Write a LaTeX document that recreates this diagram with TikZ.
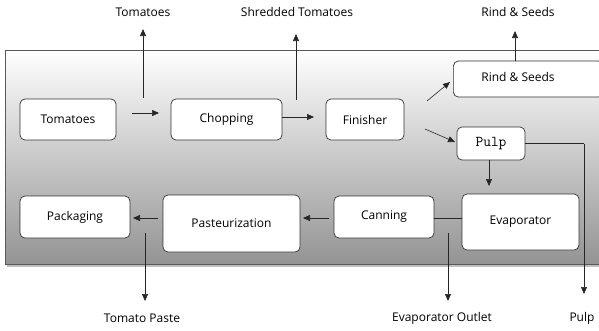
\documentclass[tikz,border=0pt]{standalone}
\usepackage{fontspec}
\setmainfont{Open Sans}
\usetikzlibrary{arrows.meta}
\begin{document}
\begin{tikzpicture}[x=1pt,y=-1pt,
  procbox/.style={draw=black!80, line width=0.7pt, rounded corners=5pt, fill=white, inner sep=0pt, font=\fontsize{12}{14}\selectfont},
  lbl/.style={font=\fontsize{12}{14}\selectfont, inner sep=0pt},
  arr/.style={-{Triangle[length=7pt,width=6pt]}, line width=0.6pt, draw=black!85},
  ln/.style={line width=0.6pt, draw=black!85}]
\useasboundingbox (0,0) rectangle (599,330);
% shadow and panel
\fill[black!25] (7,52) rectangle (601,267);
\shade[top color=white, bottom color=black!42, draw=black!65, line width=0.8pt] (5,50) rectangle (601,264);
% boxes
\node[procbox, minimum width=96pt, minimum height=41pt] (tom) at (68,119.5) {Tomatoes};
\node[procbox, minimum width=111pt, minimum height=41pt] (chop) at (226.5,119.5) {Chopping};
\node[procbox, minimum width=78pt, minimum height=41pt] (fin) at (365,119.5) {Finisher};
\node[procbox, minimum width=150pt, minimum height=36pt, anchor=west] (rind) at (453,79) {};
\node[lbl] at (518,77) {Rind \& Seeds};
\node[procbox, minimum width=68pt, minimum height=33pt, font=\ttfamily\fontsize{15}{16}\selectfont] (pulp) at (491,143.5) {Pulp};
\node[procbox, minimum width=117pt, minimum height=56pt] (evap) at (520.5,222) {Evaporator};
\node[procbox, minimum width=100pt, minimum height=42pt] (can) at (384,217) {Canning};
\node[procbox, minimum width=137pt, minimum height=57pt] (past) at (231.5,223.5) {Pasteurization};
\node[procbox, minimum width=110pt, minimum height=42pt] (pack) at (75,217) {Packaging};
% labels outside
\node[lbl] (ltom) at (143,12) {Tomatoes};
\node[lbl] (lshred) at (297,12) {Shredded Tomatoes};
\node[lbl] (lrind) at (518,12) {Rind \& Seeds};
\node[lbl] (lpaste) at (142,318) {Tomato Paste};
\node[lbl] (lout) at (442,318) {Evaporator Outlet};
\node[lbl] (lpulp) at (582,318) {Pulp};
% coordinates
\coordinate (a1) at (132,113);
\coordinate (a2) at (159,113);
\coordinate (u1) at (143,98);
\coordinate (u1t) at (143,29);
\coordinate (u2) at (296,100);
\coordinate (u2t) at (296,34);
\coordinate (d1) at (427,101);
\coordinate (d1t) at (450,82);
\coordinate (d2) at (425,129);
\coordinate (d2t) at (455,142);
\coordinate (r1t) at (515,31);
\coordinate (pc) at (584,143.5);
\coordinate (pb) at (584,294);
\coordinate (eo) at (448,233);
\coordinate (eob) at (448,301);
\coordinate (tp) at (145,233);
\coordinate (tpb) at (145,301);
% connectors
\draw[arr] (a1) -- (a2);
\draw[arr] (u1) -- (u1t);
\draw[arr] (chop.east |- 0,117) -- (314,117);
\draw[arr] (u2) -- (u2t);
\draw[arr] (d1) -- (d1t);
\draw[arr] (d2) -- (d2t);
\draw[arr] (rind.north -| 515,0) -- (r1t);
\draw[arr] (489,160) -- (489,186);
\draw[ln] (pulp.east) -- (pc);
\draw[arr] (pc) -- (pb);
\draw[ln] (evap.west |- 0,218) -- (can.east |- 0,218);
\draw[arr] (eo) -- (eob);
\draw[arr] (329,218) -- (303,218);
\draw[arr] (158,218) -- (133,218);
\draw[arr] (tp) -- (tpb);
\end{tikzpicture}
\end{document}
